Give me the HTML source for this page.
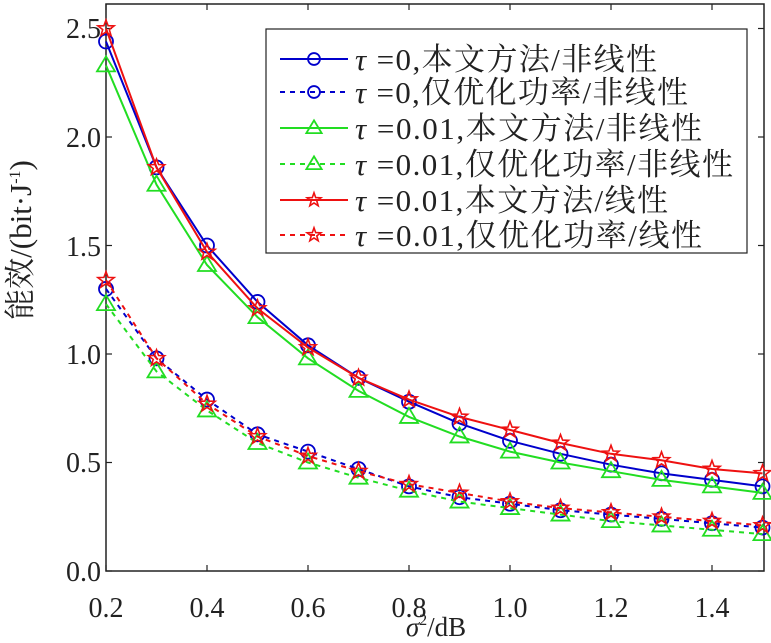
<!DOCTYPE html>
<html><head><meta charset="utf-8"><style>
body{margin:0;background:#fff}
svg text{font-family:"Liberation Serif","Noto Serif CJK SC",serif;fill:#222}
</style></head><body>
<svg id="s" width="771" height="638" viewBox="0 0 771 638" xmlns="http://www.w3.org/2000/svg">
<rect x="106" y="4" width="658" height="567" fill="none" stroke="#222" stroke-width="1.5"/>
<g id="ticks" stroke="#222" stroke-width="1.2"></g>
<g font-size="28" text-anchor="end">
<text x="101" y="38">2.5</text><text x="101" y="147">2.0</text><text x="101" y="256">1.5</text>
<text x="101" y="364">1.0</text><text x="101" y="472">0.5</text><text x="101" y="581">0.0</text>
</g>
<g font-size="28" text-anchor="middle">
<text x="106" y="617">0.2</text><text x="207" y="617">0.4</text><text x="308" y="617">0.6</text>
<text x="409" y="617">0.8</text><text x="510" y="617">1.0</text><text x="611" y="617">1.2</text><text x="712" y="617">1.4</text>
</g>
<text x="436" y="636" font-size="27" text-anchor="middle"><tspan font-style="italic">σ</tspan><tspan font-size="16" dy="-11">2</tspan><tspan dy="11">/dB</tspan></text>
<text x="0" y="0" transform="translate(31,240) rotate(-90)" font-size="31" text-anchor="middle">能效/(bit·J<tspan font-size="16" dy="-11">-1</tspan><tspan dy="11">)</tspan></text>
<g id="data"></g>
<rect x="266" y="29" width="481" height="224" fill="#fff" stroke="#222" stroke-width="1.2"/>
<g id="leg"></g>
<g font-size="31">
<text x="355" y="70" textLength="302" lengthAdjust="spacing"><tspan font-style="italic">τ</tspan> =0,本文方法/非线性</text>
<text x="355" y="103" textLength="333" lengthAdjust="spacing"><tspan font-style="italic">τ</tspan> =0,仅优化功率/非线性</text>
<text x="355" y="139" textLength="347" lengthAdjust="spacing"><tspan font-style="italic">τ</tspan> =0.01,本文方法/非线性</text>
<text x="355" y="175" textLength="378" lengthAdjust="spacing"><tspan font-style="italic">τ</tspan> =0.01,仅优化功率/非线性</text>
<text x="355" y="211" textLength="313" lengthAdjust="spacing"><tspan font-style="italic">τ</tspan> =0.01,本文方法/线性</text>
<text x="355" y="246" textLength="347" lengthAdjust="spacing"><tspan font-style="italic">τ</tspan> =0.01,仅优化功率/线性</text>
</g>
</svg>
<script>
const NS="http://www.w3.org/2000/svg";
function el(p,t,a){const e=document.createElementNS(NS,t);for(const k in a)e.setAttribute(k,a[k]);p.appendChild(e);return e;}
const X=v=>106+(v-0.2)/0.2*101, Y=v=>571-v*217;
const tk=document.getElementById('ticks');
for(let i=0;i<7;i++){const x=106+i*101;el(tk,'line',{x1:x,y1:571,x2:x,y2:565});el(tk,'line',{x1:x,y1:4,x2:x,y2:10});}
for(let i=0;i<6;i++){const y=571-i*0.5*217;el(tk,'line',{x1:106,y1:y,x2:112,y2:y});el(tk,'line',{x1:764,y1:y,x2:758,y2:y});}
const xs=[];for(let i=0;i<14;i++)xs.push(0.2+i*0.1);
const S=[
["#0000cc",0,"c",[2.44,1.86,1.50,1.24,1.04,0.89,0.78,0.68,0.60,0.54,0.49,0.45,0.42,0.39]],
["#0000cc",1,"c",[1.30,0.98,0.79,0.63,0.55,0.47,0.39,0.34,0.31,0.28,0.26,0.24,0.22,0.20]],
["#22dd22",0,"t",[2.33,1.78,1.41,1.17,0.98,0.83,0.71,0.62,0.55,0.50,0.46,0.42,0.39,0.36]],
["#22dd22",1,"t",[1.23,0.92,0.74,0.59,0.50,0.43,0.37,0.32,0.29,0.26,0.23,0.21,0.19,0.17]],
["#ee1111",0,"s",[2.50,1.86,1.47,1.21,1.03,0.89,0.79,0.71,0.65,0.59,0.54,0.51,0.47,0.45]],
["#ee1111",1,"s",[1.34,0.98,0.77,0.62,0.53,0.46,0.40,0.36,0.32,0.29,0.27,0.25,0.23,0.21]]];
function mk(g,type,x,y,c,sc){sc=sc||1;
 if(type=="c")el(g,'circle',{cx:x,cy:y,r:7*sc,fill:"none",stroke:c,"stroke-width":1.8});
 else if(type=="t")el(g,'polygon',{points:`${x},${y-9*sc} ${x+9*sc},${y+6*sc} ${x-9*sc},${y+6*sc}`,fill:"none",stroke:c,"stroke-width":1.8});
 else{let p=[];for(let k=0;k<10;k++){const r=(k%2?3.5:8.5)*sc,a=-Math.PI/2+k*Math.PI/5;p.push((x+r*Math.cos(a)).toFixed(1)+","+(y+r*Math.sin(a)).toFixed(1));}
 el(g,'polygon',{points:p.join(" "),fill:"none",stroke:c,"stroke-width":1.6});}
}
const d=document.getElementById('data'),lg=document.getElementById('leg');
const ly=[59,92,128,164,200,235];
S.forEach((s,i)=>{
 const pts=s[3].map((v,j)=>X(xs[j]).toFixed(1)+","+Y(v).toFixed(1)).join(" ");
 const a={points:pts,fill:"none",stroke:s[0],"stroke-width":2};if(s[1])a["stroke-dasharray"]="5,5";
 el(d,'polyline',a);
 s[3].forEach((v,j)=>mk(d,s[2],X(xs[j]),Y(v),s[0]));
 const y=ly[i];
 const b={x1:280,y1:y,x2:348,y2:y,stroke:s[0],"stroke-width":2};if(s[1])b["stroke-dasharray"]="5,5";
 el(lg,'line',b);mk(lg,s[2],314,y,s[0],0.85);
});
</script>
</body></html>
